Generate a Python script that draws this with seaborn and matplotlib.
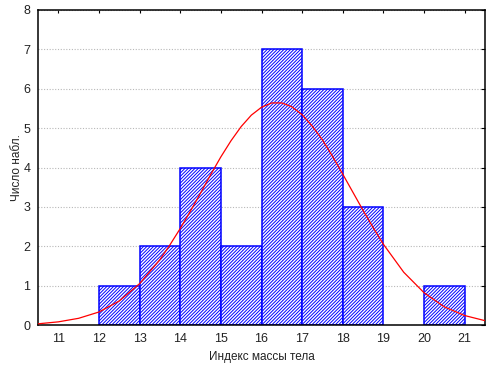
import numpy as np
import pandas as pd
import matplotlib
matplotlib.use("Agg")
import matplotlib.pyplot as plt
import seaborn as sns

# histogram: bins of width 1 from 12 to 21
bin_edges = [12, 13, 14, 15, 16, 17, 18, 19, 20, 21]
counts = [1, 2, 4, 2, 7, 6, 3, 0, 1]

# fitted normal curve
curve_x = [10.5, 11, 11.5, 12, 12.5, 13, 13.5, 13.75, 14, 14.25, 14.5, 14.75,
           15, 15.25, 15.5, 15.75, 16, 16.25, 16.5, 16.75, 17, 17.25, 17.5,
           17.75, 18, 18.25, 18.5, 18.75, 19, 19.5, 20, 20.5, 21, 21.5]
curve_y = [0.03, 0.08, 0.17, 0.33, 0.61, 1.05, 1.66, 2.04, 2.45, 2.89, 3.35, 3.82,
           4.27, 4.68, 5.04, 5.33, 5.53, 5.64, 5.64, 5.54, 5.34, 5.05, 4.70,
           4.28, 3.83, 3.37, 2.91, 2.47, 2.05, 1.34, 0.82, 0.46, 0.24, 0.11]

x_ticks = [11, 12, 13, 14, 15, 16, 17, 18, 19, 20, 21]
y_ticks = [0, 1, 2, 3, 4, 5, 6, 7, 8]

sns.set_theme(style="white")
plt.rcParams["font.family"] = ["Liberation Sans", "DejaVu Sans"]
plt.rcParams["hatch.linewidth"] = 0.7

hist_df = pd.DataFrame({
    "bmi": [e + 0.5 for e in bin_edges[:-1]],
    "n": counts,
})

fig = plt.figure(figsize=(4.94, 3.70), dpi=100)
ax = fig.add_axes([38 / 494, 45 / 370, 447 / 494, 315 / 370])

sns.histplot(data=hist_df, x="bmi", weights="n", bins=bin_edges,
             color="white", edgecolor="#0000ff", linewidth=1.1,
             alpha=1, hatch="//////////", ax=ax, zorder=2)
for p in ax.patches:
    if p.get_height() == 0:
        p.set_visible(False)

sns.lineplot(x=curve_x, y=curve_y, color="#ff0000", linewidth=0.9, ax=ax, zorder=3)

ax.set_xlim(10.5, 21.5)
ax.set_ylim(0, 8)
ax.set_xticks(x_ticks)
ax.set_yticks(y_ticks)
ax.yaxis.grid(True, color="#b8b8b8", linestyle=(0, (1, 1.5)), linewidth=0.8)
ax.set_axisbelow(True)

for s in ax.spines.values():
    s.set_color("black")
    s.set_linewidth(1.1)

ax.tick_params(axis="x", bottom=False, top=True, direction="in", length=2.5,
               width=0.8, color="black", labelsize=9, pad=6, labelcolor="#222222")
ax.tick_params(axis="y", left=False, right=True, direction="in", length=3,
               width=0.8, color="black", labelsize=9, pad=5.5, labelcolor="#222222")

ax.set_xlabel("Индекс массы тела", fontsize=8.5, color="#222222", labelpad=4)
ax.set_ylabel("Число набл.", fontsize=8.5, color="#222222", labelpad=0)

fig.savefig("out.png", dpi=100)
